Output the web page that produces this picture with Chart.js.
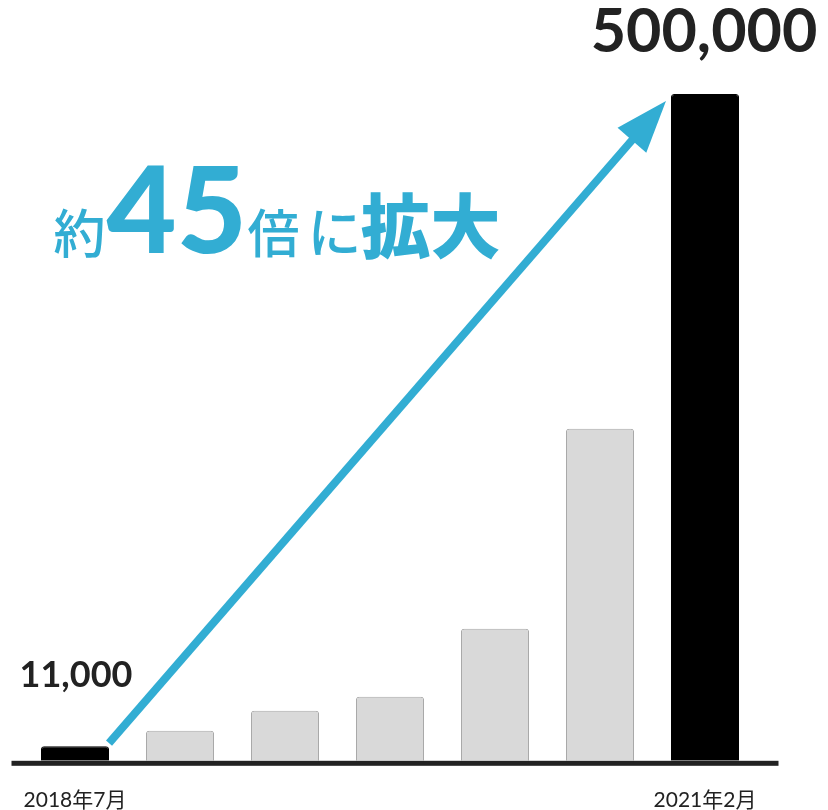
<!DOCTYPE html>
<html>
<head>
<meta charset="utf-8">
<script src="https://cdn.jsdelivr.net/npm/chart.js@4/dist/chart.umd.min.js"></script>
<style>
  html, body { margin: 0; padding: 0; background: #fff; }
  #wrap { width: 828px; height: 810px; }
</style>
</head>
<body>
<div id="wrap"><canvas id="growth-chart" width="828" height="810"></canvas></div>
<script>
const months = ['2018年7月', '', '', '', '', '', '2021年2月'];
const counts = [11000, 22500, 37500, 48000, 99000, 249000, 500000];
const highlighted = [true, false, false, false, false, false, true];
const startLabel = '11,000';
const endLabel = '500,000';

const BLUE = '#32add3';

// baseline, arrow, headline and value labels drawn over the bars
const decorations = {
    id: 'decorations',
    afterDatasetsDraw(chart) {
        const ctx = chart.ctx;
        const area = chart.chartArea;
        const bars = chart.getDatasetMeta(0).data;
        const first = bars[0];
        const last = bars[bars.length - 1];

        ctx.save();

        // thick baseline, wider than the plot area
        ctx.fillStyle = '#222';
        ctx.fillRect(area.left - 11, area.bottom, area.right - area.left + 32, 5);

        // arrow from the first bar to the last one
        const sx = first.x + first.width / 2, sy = first.y - 3;
        const tx = last.x - last.width / 2 - 5, ty = last.y + 7;
        const ang = Math.atan2(ty - sy, tx - sx);
        const headLen = 52, headHalf = 19;
        const bx = tx - headLen * Math.cos(ang), by = ty - headLen * Math.sin(ang);
        ctx.strokeStyle = BLUE;
        ctx.lineWidth = 8;
        ctx.beginPath();
        ctx.moveTo(sx, sy);
        ctx.lineTo(bx + 6 * Math.cos(ang), by + 6 * Math.sin(ang));
        ctx.stroke();
        ctx.fillStyle = BLUE;
        ctx.beginPath();
        ctx.moveTo(tx, ty);
        ctx.lineTo(bx - headHalf * Math.sin(ang), by + headHalf * Math.cos(ang));
        ctx.lineTo(bx + headHalf * Math.sin(ang), by - headHalf * Math.cos(ang));
        ctx.closePath();
        ctx.fill();

        // value labels
        ctx.fillStyle = '#222';
        ctx.textAlign = 'center';
        ctx.textBaseline = 'alphabetic';
        ctx.font = 'bold 36px Lato';
        ctx.fillText(startLabel, first.x + 1, first.y - 59);
        ctx.font = 'bold 61px Lato';
        ctx.fillText(endLabel, last.x - 1, last.y - 42);

        // headline
        const base = 253;
        const cjk = '"Noto Sans CJK JP", "Noto Sans", sans-serif';
        ctx.fillStyle = BLUE;
        ctx.textAlign = 'left';
        ctx.font = '500 52px ' + cjk;
        ctx.fillText('約', area.left + 31, base);
        ctx.font = '900 121px Lato';
        ctx.fillText('45', area.left + 84, base);
        ctx.font = '500 52px ' + cjk;
        ctx.fillText('倍', area.left + 225, base);
        ctx.font = '500 54px ' + cjk;
        ctx.fillText('に', area.left + 285, base);
        ctx.font = '900 70px ' + cjk;
        ctx.fillText('拡大', area.left + 338, base);

        ctx.restore();
    }
};

const ctx = document.getElementById('growth-chart').getContext('2d');

const growthChart = new Chart(ctx, {
    type: 'bar',
    data: {
        labels: months,
        datasets: [{
            data: counts,
            backgroundColor: highlighted.map(h => h ? '#000' : '#d9d9d9'),
            borderColor: highlighted.map(h => h ? '#000' : '#a8a8a8'),
            borderWidth: 1,
            borderSkipped: 'bottom',
            borderRadius: { topLeft: 3, topRight: 3 },
            categoryPercentage: 1,
            barPercentage: 0.648
        }]
    },
    options: {
        responsive: false,
        animation: false,
        layout: {
            padding: { top: 94, left: 22.5, right: 70.5, bottom: -30 }
        },
        plugins: {
            legend: { display: false },
            tooltip: { enabled: false }
        },
        scales: {
            x: {
                grid: { display: false, drawTicks: false },
                border: { display: false },
                afterFit(scale) {
                    // the edge labels may hang past the plot area
                    scale.paddingLeft = 0;
                    scale.paddingRight = 0;
                },
                ticks: {
                    autoSkip: false,
                    maxRotation: 0,
                    padding: 27,
                    color: '#222',
                    font: { family: 'Lato, "Noto Sans CJK JP"', size: 21 }
                }
            },
            y: {
                display: false,
                min: 0,
                max: 500000
            }
        }
    },
    plugins: [decorations]
});
</script>
</body>
</html>
